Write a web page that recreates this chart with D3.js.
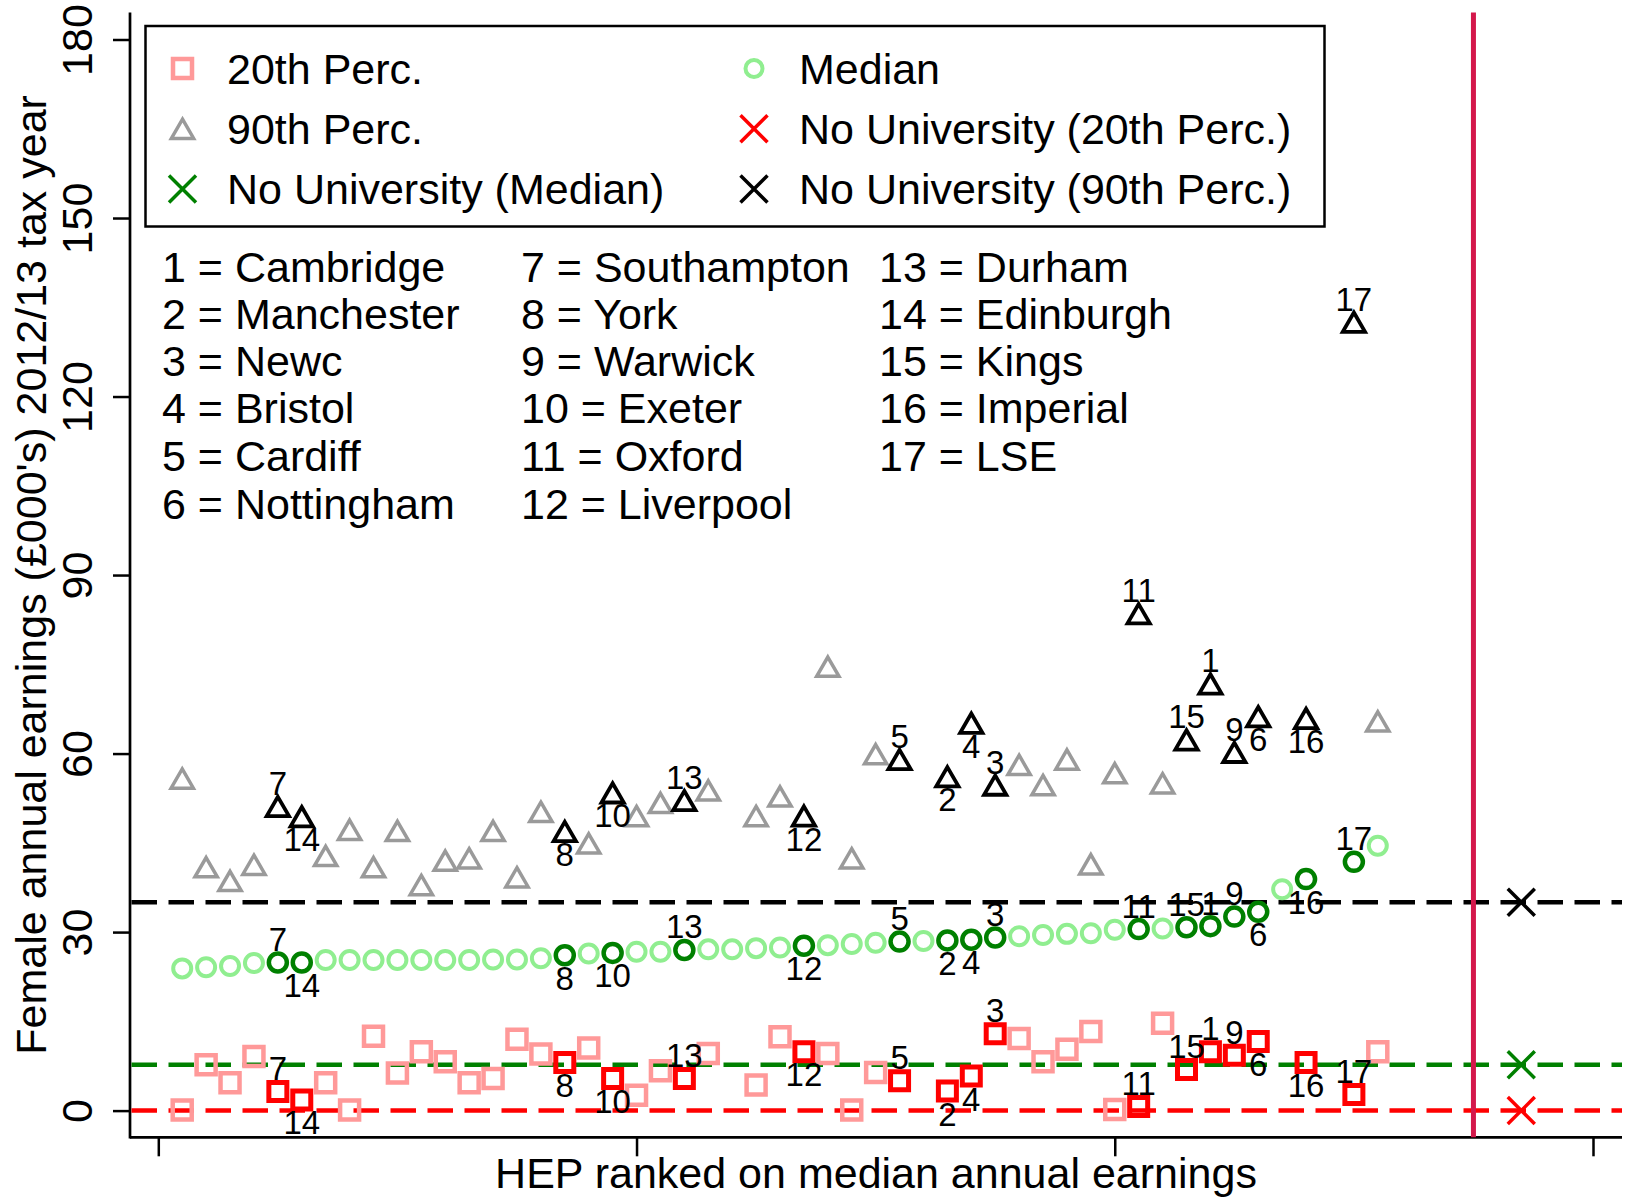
<!DOCTYPE html>
<html>
<head>
<meta charset="utf-8">
<script src="https://cdn.jsdelivr.net/npm/d3@7"></script>
<style>
  body { margin: 0; background: #fff; }
  svg { display: block; font-family: "Liberation Sans", Arial, sans-serif; }
</style>
</head>
<body>
<svg id="chart" width="1629" height="1199"></svg>
<script>
// HEP rank on median earnings (x position)
const rank = [1, 2, 3, 4, 5, 6, 7, 8, 9, 10, 11, 12, 13, 14, 15, 16, 17, 18, 19, 20,
  21, 22, 23, 24, 25, 26, 27, 28, 29, 30, 31, 32, 33, 34, 35, 36, 37, 38, 39, 40,
  41, 42, 43, 44, 45, 46, 47, 48, 49, 50, 51];

// female annual earnings, £000's
const p20 = [0.1, 7.7, 4.7, 9.1, 3.2, 1.8, 4.7, 0.1, 12.5, 6.3, 9.9, 8.2, 4.7, 5.4, 12.0, 9.5, 8.1, 10.5, 5.4, 2.6,
  6.7, 5.4, 9.6, null, 4.3, 12.4, 9.9, 9.6, 0.1, 6.4, 5.0, null, 3.3, 5.8, 12.9, 12.1, 8.2, 10.3, 13.3, 0.2,
  0.7, 14.7, 6.9, 9.9, 9.3, 11.6, null, 8.1, null, 2.7, 9.9];

const median = [23.9, 24.1, 24.3, 24.8, 24.9, 24.9, 25.3, 25.3, 25.3, 25.3, 25.3, 25.3, 25.3, 25.4, 25.4, 25.6, 26.1, 26.4, 26.5, 26.7,
  26.7, 27.0, 27.1, 27.1, 27.3, 27.4, 27.7, 27.8, 28.0, 28.2, 28.4, 28.5, 28.6, 28.7, 29.1, 29.3, 29.5, 29.7, 29.8, 30.4,
  30.5, 30.6, 30.8, 31.0, 32.6, 33.4, 37.2, 38.9, null, 41.8, 44.5];

const p90 = [55.8, 40.9, 38.6, 41.3, 51.1, 49.4, 42.8, 47.2, 40.9, 47.0, 37.9, 42.0, 42.4, 47.0, 39.2, 50.2, 46.9, 44.9, 53.4, 49.5,
  51.7, 52.1, 53.8, null, 49.5, 52.8, 49.5, 74.6, 42.4, 59.9, 59.0, null, 56.1, 65.1, 54.7, 58.1, 54.7, 59.0, 41.4, 56.7,
  83.5, 55.0, 62.3, 71.7, 60.2, 66.2, null, 65.9, null, 132.5, 65.4];

// labelled HEPs: number n is hepNames[n-1], sitting at rank hepRank[n-1]
const hepNames = ['Cambridge', 'Manchester', 'Newc', 'Bristol', 'Cardiff', 'Nottingham',
  'Southampton', 'York', 'Warwick', 'Exeter', 'Oxford', 'Liverpool',
  'Durham', 'Edinburgh', 'Kings', 'Imperial', 'LSE'];
const hepRank = [44, 33, 35, 34, 31, 46, 5, 17, 45, 19, 41, 27, 22, 6, 43, 48, 50];

// no university comparison: 20th, median, 90th
const noUniValues = [0, 7.7, 35];
const noUniPos = 57;
const dividerPos = 55;

const xTicks = [0, 20, 40, 60];
const yTicks = [0, 30, 60, 90, 120, 150, 180];

const svg = d3.select('#chart');

const plot = { left: 130, right: 1622, top: 12.5, bottom: 1137.3 };
const x = d3.scaleLinear().domain([0, 60]).range([158.3, 1593]);
const y = d3.scaleLinear().domain([0, 180]).range([1110.6, 39.5]);

const col = {
  pink: '#ff9999', red: '#ff0000',
  lgreen: '#90ee90', green: '#008000',
  gray: '#9a9a9a', black: '#000000',
  divider: '#d4184b'
};

// custom X symbol for the no-university markers
const symbolCross = {
  draw(ctx, size) {
    const r = Math.sqrt(size) / 2;
    ctx.moveTo(-r, -r); ctx.lineTo(r, r);
    ctx.moveTo(r, -r); ctx.lineTo(-r, r);
  }
};
const sq = d3.symbol(d3.symbolSquare, 19 * 19);
const sqDark = d3.symbol(d3.symbolSquare, 18 * 18);
const tri = d3.symbol(d3.symbolTriangle, 215);
const triShift = Math.sqrt(215 / (3 * Math.sqrt(3))) / 2; // bbox centre -> centroid
const cross = d3.symbol(symbolCross, 27 * 27);

// axes
const yAxis = svg.append('g')
  .attr('transform', `translate(${plot.left},0)`)
  .attr('font-family', null).attr('font-size', null)
  .call(d3.axisLeft(y).tickValues(yTicks).tickSize(17).tickSizeOuter(0));
yAxis.select('.domain').remove();
yAxis.selectAll('.tick line').attr('stroke', '#000').attr('stroke-width', 2.5);
yAxis.selectAll('.tick text')
  .attr('x', 0).attr('dy', '0.35em')
  .attr('transform', 'translate(-53,0) rotate(-90)')
  .attr('text-anchor', 'middle')
  .attr('fill', '#000')
  .style('font-size', '43px');

const xAxis = svg.append('g')
  .attr('transform', `translate(0,${plot.bottom})`)
  .call(d3.axisBottom(x).tickValues(xTicks).tickSize(19).tickSizeOuter(0).tickFormat(''));
xAxis.select('.domain').remove();
xAxis.selectAll('.tick line').attr('stroke', '#000').attr('stroke-width', 2.5);

svg.append('line')
  .attr('x1', plot.left).attr('x2', plot.left)
  .attr('y1', plot.top).attr('y2', plot.bottom + 1.3)
  .attr('stroke', '#000').attr('stroke-width', 2.7);
svg.append('line')
  .attr('x1', plot.left).attr('x2', plot.right)
  .attr('y1', plot.bottom).attr('y2', plot.bottom)
  .attr('stroke', '#000').attr('stroke-width', 2.7);

// reference lines for no university
const lineColours = [col.red, col.green, col.black];
svg.append('g').selectAll('line')
  .data(noUniValues)
  .join('line')
  .attr('x1', plot.left + 1.5).attr('x2', plot.right)
  .attr('y1', d => y(d)).attr('y2', d => y(d))
  .attr('stroke', (d, i) => lineColours[i])
  .attr('stroke-width', 4.5)
  .attr('stroke-dasharray', '25.5 11.5');

// points
const pts = rank.map((r, i) => ({ r, p20: p20[i], median: median[i], p90: p90[i] }));
const hepAt = new Map(hepRank.map((r, i) => [r, i + 1]));
const plain = pts.filter(d => !hepAt.has(d.r));
const named = pts.filter(d => hepAt.has(d.r)).map(d => ({ ...d, n: hepAt.get(d.r) }));

const g = svg.append('g');

g.selectAll('.sq').data(plain.filter(d => d.p20 != null)).join('path')
  .attr('d', sq).attr('transform', d => `translate(${x(d.r)},${y(d.p20)})`)
  .attr('fill', 'none').attr('stroke', col.pink).attr('stroke-width', 4.5);
g.selectAll('.ci').data(plain.filter(d => d.median != null)).join('circle')
  .attr('cx', d => x(d.r)).attr('cy', d => y(d.median)).attr('r', 9)
  .attr('fill', 'none').attr('stroke', col.lgreen).attr('stroke-width', 4);
g.selectAll('.tr').data(plain.filter(d => d.p90 != null)).join('path')
  .attr('d', tri).attr('transform', d => `translate(${x(d.r)},${y(d.p90) + triShift})`)
  .attr('fill', 'none').attr('stroke', col.gray).attr('stroke-width', 3.5);

const gn = svg.append('g');
gn.selectAll('.sqd').data(named).join('path')
  .attr('d', sqDark).attr('transform', d => `translate(${x(d.r)},${y(d.p20)})`)
  .attr('fill', 'none').attr('stroke', col.red).attr('stroke-width', 5);
gn.selectAll('.cid').data(named).join('circle')
  .attr('cx', d => x(d.r)).attr('cy', d => y(d.median)).attr('r', 9)
  .attr('fill', 'none').attr('stroke', col.green).attr('stroke-width', 4.5);
gn.selectAll('.trd').data(named).join('path')
  .attr('d', tri).attr('transform', d => `translate(${x(d.r)},${y(d.p90) + triShift})`)
  .attr('fill', 'none').attr('stroke', col.black).attr('stroke-width', 3.8);

// marker labels: odd numbers above, even below
const labelOff = 23;
['p20', 'median', 'p90'].forEach(k => {
  gn.append('g').selectAll('text').data(named).join('text')
    .attr('x', d => x(d.r))
    .attr('y', d => y(d[k]) + (d.n % 2 ? -labelOff : labelOff))
    .attr('dy', '0.35em')
    .attr('text-anchor', 'middle')
    .style('font-size', '33px')
    .text(d => d.n);
});

// divider and no-university markers
svg.append('line')
  .attr('x1', x(dividerPos)).attr('x2', x(dividerPos))
  .attr('y1', plot.top).attr('y2', plot.bottom)
  .attr('stroke', col.divider).attr('stroke-width', 5);

svg.append('g').selectAll('path')
  .data(noUniValues)
  .join('path')
  .attr('d', cross)
  .attr('transform', d => `translate(${x(noUniPos)},${y(d)})`)
  .attr('fill', 'none')
  .attr('stroke', (d, i) => lineColours[i])
  .attr('stroke-width', 3.5);

// legend
const legend = svg.append('g');
legend.append('rect')
  .attr('x', 145.5).attr('y', 26).attr('width', 1179).attr('height', 200.5)
  .attr('fill', '#fff').attr('stroke', '#000').attr('stroke-width', 2.5);

const legendItems = [
  { label: '20th Perc.', kind: 'sq', colour: col.pink, c: 0, row: 0 },
  { label: '90th Perc.', kind: 'tri', colour: col.gray, c: 0, row: 1 },
  { label: 'No University (Median)', kind: 'x', colour: col.green, c: 0, row: 2 },
  { label: 'Median', kind: 'ci', colour: col.lgreen, c: 1, row: 0 },
  { label: 'No University (20th Perc.)', kind: 'x', colour: col.red, c: 1, row: 1 },
  { label: 'No University (90th Perc.)', kind: 'x', colour: col.black, c: 1, row: 2 }
];
const legMarkX = [182.5, 754], legTextX = [227, 799], legRowY = [68.5, 128.8, 189];
legendItems.forEach(it => {
  const mx = legMarkX[it.c], my = legRowY[it.row];
  if (it.kind === 'ci') {
    legend.append('circle').attr('cx', mx).attr('cy', my).attr('r', 8.5)
      .attr('fill', 'none').attr('stroke', it.colour).attr('stroke-width', 4);
  } else {
    const gen = it.kind === 'sq' ? sq : it.kind === 'tri' ? tri : cross;
    legend.append('path').attr('d', gen)
      .attr('transform', `translate(${mx},${my + (it.kind === 'tri' ? triShift : 0)})`)
      .attr('fill', 'none').attr('stroke', it.colour)
      .attr('stroke-width', it.kind === 'sq' ? 4.5 : 3.5);
  }
  legend.append('text')
    .attr('x', legTextX[it.c]).attr('y', my).attr('dy', '0.35em')
    .style('font-size', '43px')
    .text(it.label);
});

// key of HEP numbers
const keyColX = [162, 521, 879];
const keyRowY = [267, 313.7, 360.5, 408, 456, 504];
svg.append('g').selectAll('text')
  .data(hepNames)
  .join('text')
  .attr('x', (d, i) => keyColX[Math.floor(i / 6)])
  .attr('y', (d, i) => keyRowY[i % 6])
  .attr('dy', '0.35em')
  .style('font-size', '43px')
  .text((d, i) => `${i + 1} = ${d}`);

// axis titles
svg.append('text')
  .attr('transform', `translate(31,${(plot.top + plot.bottom) / 2}) rotate(-90)`)
  .attr('dy', '0.35em')
  .attr('text-anchor', 'middle')
  .style('font-size', '43px')
  .text("Female annual earnings (£000's) 2012/13 tax year");

svg.append('text')
  .attr('x', (plot.left + plot.right) / 2)
  .attr('y', 1188)
  .attr('text-anchor', 'middle')
  .style('font-size', '43px')
  .text('HEP ranked on median annual earnings');
</script>
</body>
</html>
